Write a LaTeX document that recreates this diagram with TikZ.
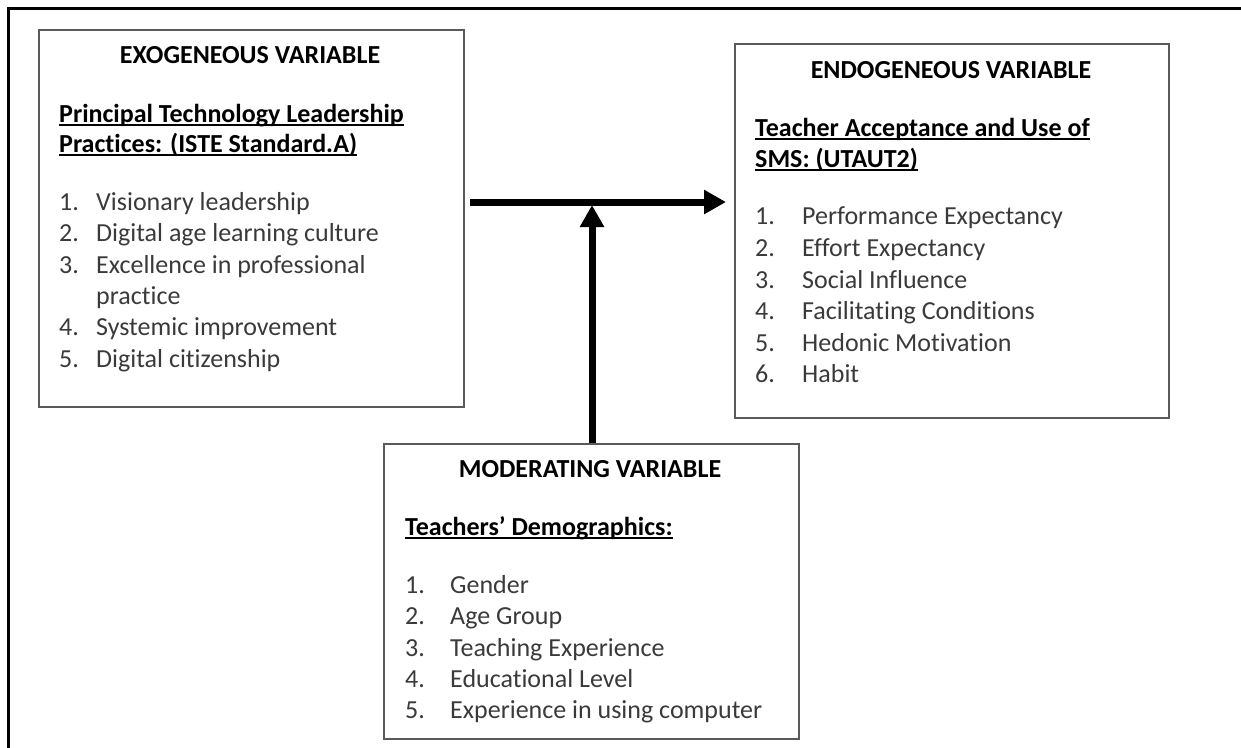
\documentclass[tikz,border=0pt]{standalone}
\usepackage{fontspec}
\setmainfont[Ligatures=NoCommon]{Carlito}
\usetikzlibrary{arrows.meta}
\definecolor{itemgray}{HTML}{3A3A3A}
\definecolor{boxgray}{HTML}{5A5A5A}
\newcommand\myul[1]{\setbox0\hbox{#1}\rlap{\rule[-3.5pt]{\wd0}{1.8pt}}\box0}
\begin{document}
\begin{tikzpicture}[x=1pt,y=-1pt,
  box/.style={draw=boxgray,line width=2.2pt,inner sep=0pt,anchor=north west},
  head/.style={font=\fontsize{26}{30}\selectfont\bfseries,anchor=base,inner sep=0pt},
  sub/.style={font=\fontsize{26}{30}\selectfont\bfseries,anchor=base west,inner sep=0pt},
  item/.style={font=\fontsize{26}{30}\selectfont,text=itemgray,anchor=base west,inner sep=0pt},
  conn/.style={line width=7pt,-{Triangle[length=22pt,width=23pt]}}]
\useasboundingbox (0,0) rectangle (1241,747);
\draw[line width=3pt] (8,749) -- (8,8) -- (1243,8);

% Exogeneous box
\node[box,minimum width=425pt,minimum height=377pt] (exo) at (38,29) {};
\node[head] (exoh) at (250,63) {EXOGENEOUS VARIABLE};
\node[sub] (exos1) at (59,122) {\myul{Principal Technology Leadership}};
\node[sub] (exos2) at (59,152) {\myul{Practices: (ISTE Standard.A)}};
\foreach \n/\t/\y [count=\i] in {1./Visionary leadership/210,2./Digital age learning culture/241,3./Excellence in professional/273,/practice/304,4./Systemic improvement/335,5./Digital citizenship/367}{
  \node[item] (exon\i) at (59,\y) {\n};
  \node[item] (exot\i) at (96,\y) {\t};
}

% Endogeneous box
\node[box,minimum width=434pt,minimum height=374pt] (endo) at (734,43) {};
\node[head] (endoh) at (951,78) {ENDOGENEOUS VARIABLE};
\node[sub] (endos1) at (755,136) {\myul{Teacher Acceptance and Use of}};
\node[sub] (endos2) at (755,167) {\myul{SMS: (UTAUT2)}};
\foreach \n/\t/\y [count=\i] in {1./Performance Expectancy/224,2./Effort Expectancy/256,3./Social Influence/288,4./Facilitating Conditions/319,5./Hedonic Motivation/351,6./Habit/382}{
  \node[item] (endon\i) at (755,\y) {\n};
  \node[item] (endot\i) at (802,\y) {\t};
}

% Moderating box
\node[box,minimum width=415pt,minimum height=295pt] (mod) at (383,443) {};
\node[head] (modh) at (590,477) {MODERATING VARIABLE};
\node[sub] (mods1) at (405,535) {\myul{Teachers’ Demographics:}};
\foreach \n/\t/\y [count=\i] in {1./Gender/593,2./Age Group/624,3./Teaching Experience/656,4./Educational Level/687,5./Experience in using computer/718}{
  \node[item] (modn\i) at (405,\y) {\n};
  \node[item] (modt\i) at (450,\y) {\t};
}

% Connectors
\coordinate (hstart) at (470,202);
\coordinate (hend) at (726,202);
\coordinate (vend) at (592,205);
\draw[conn] (hstart) -- (hend);
\draw[conn] (mod.north -| vend) -- (vend);
\end{tikzpicture}
\end{document}
